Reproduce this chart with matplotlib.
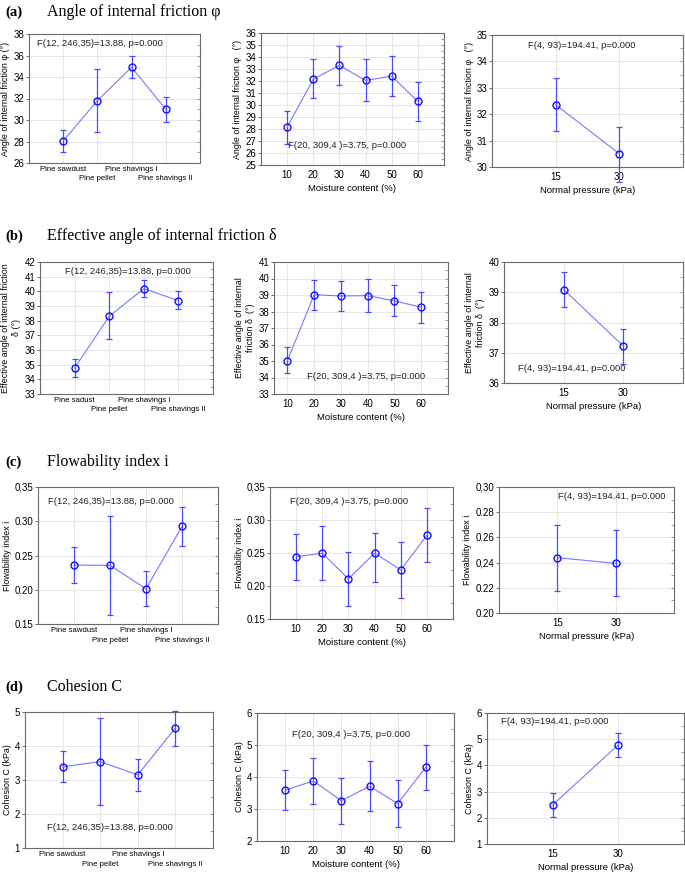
import numpy as np
import matplotlib
matplotlib.use('Agg')
from matplotlib import pyplot as plt

plt.rcParams['font.family'] = ['Liberation Sans', 'DejaVu Sans']

W, H = 685, 873

# x categories
types = ['Pine sawdust', 'Pine pellet', 'Pine shavings I', 'Pine shavings II']
types_b = ['Pine sadust', 'Pine pellet', 'Pine shavings I', 'Pine shavings II']
moisture = [10, 20, 30, 40, 50, 60]
pressure = [15, 30]

# (a) angle of internal friction
phi_type = [28.05, 31.8, 34.9, 31.0]
phi_type_lo = [27.05, 28.9, 33.9, 29.85]
phi_type_hi = [29.1, 34.7, 35.95, 32.15]
phi_moist = [28.15, 32.15, 33.3, 32.05, 32.4, 30.3]
phi_moist_lo = [26.75, 30.55, 31.7, 30.35, 30.75, 28.7]
phi_moist_hi = [29.5, 33.8, 34.9, 33.8, 34.05, 31.95]
phi_press = [32.36, 30.5]
phi_press_lo = [31.35, 29.45]
phi_press_hi = [33.38, 31.52]

# (b) effective angle of internal friction
delta_type = [34.77, 38.3, 40.18, 39.37]
delta_type_lo = [34.18, 36.74, 39.6, 38.77]
delta_type_hi = [35.36, 39.96, 40.75, 40.02]
delta_moist = [35.01, 39.02, 38.94, 38.96, 38.64, 38.26]
delta_moist_lo = [34.25, 38.12, 38.04, 38.0, 37.74, 37.33]
delta_moist_hi = [35.82, 39.93, 39.85, 39.97, 39.63, 39.2]
delta_press = [39.09, 37.22]
delta_press_lo = [38.51, 36.64]
delta_press_hi = [39.67, 37.78]

# (c) flowability index
ff_type = [0.236, 0.2357, 0.2013, 0.2924]
ff_type_lo = [0.2105, 0.163, 0.1762, 0.2643]
ff_type_hi = [0.2619, 0.3079, 0.2275, 0.3209]
ff_moist = [0.2442, 0.2497, 0.2108, 0.2497, 0.2244, 0.2766]
ff_moist_lo = [0.2092, 0.2092, 0.1703, 0.2057, 0.1819, 0.2361]
ff_moist_hi = [0.2781, 0.2903, 0.2513, 0.2796, 0.266, 0.3181]
ff_press = [0.2439, 0.2394]
ff_press_lo = [0.2175, 0.2135]
ff_press_hi = [0.2701, 0.2656]

# (d) cohesion
c_type = [3.39, 3.54, 3.15, 4.53]
c_type_lo = [2.93, 2.26, 2.69, 4.01]
c_type_hi = [3.85, 4.82, 3.61, 5.02]
c_moist = [3.59, 3.875, 3.26, 3.71, 3.17, 4.31]
c_moist_lo = [2.98, 3.16, 2.54, 2.94, 2.44, 3.6]
c_moist_hi = [4.21, 4.59, 3.98, 4.49, 3.9, 5.0]
c_press = [2.49, 4.79]
c_press_lo = [2.03, 4.32]
c_press_hi = [2.93, 5.25]

f_type = 'F(12, 246,35)=13.88, p=0.000'
f_moist = 'F(20, 309,4 )=3.75, p=0.000'
f_press = 'F(4, 93)=194.41, p=0.000'

fig = plt.figure(figsize=(W / 100, H / 100), dpi=100)


def make_ax(l, t, r, b):
    return fig.add_axes([l / W, 1 - b / H, (r - l) / W, (b - t) / H])


def panel(box, x, y, lo, hi, ylim, ystep, ylabel, ftext, fpos, kind, labels=None, yticklabels=None):
    ax = make_ax(*box)
    y = np.array(y)
    yerr = [y - np.array(lo), np.array(hi) - y]
    if kind == 'type':
        xs = np.arange(len(x))
    else:
        xs = np.array(x)
    ax.errorbar(xs, y, yerr=yerr, fmt='none', ecolor='#4a4aff', elinewidth=0.9,
                capsize=2.2, capthick=0.9, clip_on=False, zorder=3)
    ax.plot(xs, y, '-', color='#7777ff', lw=0.8, zorder=3)
    ax.plot(xs, y, 'o', mfc='none', mec='#1010ff', mew=1.0, ms=5, zorder=4, clip_on=False)
    ax.set_ylim(*ylim)
    yt = np.arange(ylim[0], ylim[1] + ystep / 2, ystep)
    ax.set_yticks(yt)
    if yticklabels is not None:
        ax.set_yticklabels(yticklabels)
    if kind == 'type':
        ax.set_xlim(-1, 4)
        ax.set_xticks(xs)
        ax.set_xticklabels(labels, fontsize=5.6)
        ax.tick_params(axis='x', length=0, pad=2)
        # staggered category labels
        for i, t in enumerate(ax.xaxis.get_major_ticks()):
            if i % 2 == 1:
                t.set_pad(9)
    elif kind == 'moist':
        ax.set_xlim(0 if box[0] != 274 else 5, 70)
        ax.set_xticks(xs)
        ax.set_xlabel('Moisture content (%)', fontsize=6.8, labelpad=3)
        ax.tick_params(axis='x', length=0, labelsize=7)
    else:
        ax.set_xlim(0, 45)
        ax.set_xticks(xs)
        ax.set_xlabel('Normal pressure (kPa)', fontsize=6.8, labelpad=3)
        ax.tick_params(axis='x', length=0, labelsize=7)
    ax.tick_params(axis='y', labelsize=7, length=2, width=0.6, pad=1.5, color='#555555')
    ax.set_ylabel(ylabel, fontsize=6.4, labelpad=2, linespacing=1.3)
    ax.grid(True, color='#e2e2e2', lw=0.6)
    ax.set_axisbelow(True)
    for s in ax.spines.values():
        s.set_color('#6a6a6a')
        s.set_linewidth(0.8)
    # little inside ticks on the right edge
    ax2 = ax.twinx()
    ax2.set_ylim(*ylim)
    ax2.set_yticks(np.arange(ylim[0], ylim[1] + ystep / 4, ystep / 2))
    ax2.set_yticklabels([])
    ax2.tick_params(axis='y', direction='in', length=2, width=0.5, color='#777777')
    for s in ax2.spines.values():
        s.set_visible(False)
    ax.text(fpos[0], fpos[1], ftext, transform=ax.transAxes, fontsize=6.8,
            ha='left', va='center', color='#222222')
    return ax


def header(tag, title, y):
    fig.text(5 / W, 1 - y / H, tag, family='Liberation Serif', weight='bold',
             fontsize=10.5, va='center', ha='left')
    fig.text(47 / W, 1 - y / H, title, family='Liberation Serif',
             fontsize=11.5, va='center', ha='left')


header('(a)', 'Angle of internal friction φ', 12)
header('(b)', 'Effective angle of internal friction δ', 236)
header('(c)', 'Flowability index i', 462)
header('(d)', 'Cohesion C', 687)

phi_lab = 'Angle of internal friction φ   (°)'
panel((29, 34, 200, 163), types, phi_type, phi_type_lo, phi_type_hi, (26, 38), 2,
      'Angle of internal friction φ (°)', f_type, (0.045, 0.93), 'type', labels=types)
panel((261, 33, 444, 165), moisture, phi_moist, phi_moist_lo, phi_moist_hi, (25, 36), 1,
      phi_lab, f_moist, (0.15, 0.146), 'moist')
panel((492, 35, 683, 167), pressure, phi_press, phi_press_lo, phi_press_hi, (30, 35), 1,
      phi_lab, f_press, (0.19, 0.917), 'press')

delta_lab = 'Effective angle of internal\nfriction δ  (°)'
panel((40, 262, 213, 394), types_b, delta_type, delta_type_lo, delta_type_hi, (33, 42), 1,
      'Effective angle of internal friction\nδ (°)', f_type, (0.145, 0.93), 'type', labels=types_b)
panel((274, 262, 448, 394), moisture, delta_moist, delta_moist_lo, delta_moist_hi, (33, 41), 1,
      delta_lab, f_moist, (0.19, 0.136), 'moist')
panel((504, 262, 683, 383), pressure, delta_press, delta_press_lo, delta_press_hi, (36, 40), 1,
      delta_lab, f_press, (0.077, 0.116), 'press')

ff_ticks = ['0.15', '0.20', '0.25', '0.30', '0,35']
panel((38, 487, 218, 624), types, ff_type, ff_type_lo, ff_type_hi, (0.15, 0.35), 0.05,
      'Flowability index i', f_type, (0.057, 0.893), 'type', labels=types, yticklabels=ff_ticks)
panel((270, 487, 453, 619), moisture, ff_moist, ff_moist_lo, ff_moist_hi, (0.15, 0.35), 0.05,
      'Flowability index i', f_moist, (0.11, 0.889), 'moist', yticklabels=ff_ticks)
panel((499, 487, 674, 613), pressure, ff_press, ff_press_lo, ff_press_hi, (0.20, 0.30), 0.02,
      'Flowability index i', f_press, (0.34, 0.923), 'press',
      yticklabels=['0.20', '0.22', '0,24', '0.26', '0.28', '0,30'])

panel((25, 712, 213, 848), types, c_type, c_type_lo, c_type_hi, (1, 5), 1,
      'Cohesion C (kPa)', f_type, (0.115, 0.149), 'type', labels=types)
panel((257, 713, 454, 841), moisture, c_moist, c_moist_lo, c_moist_hi, (2, 6), 1,
      'Cohesion C (kPa)', f_moist, (0.176, 0.834), 'moist')
panel((487, 713, 684, 844), pressure, c_press, c_press_lo, c_press_hi, (1, 6), 1,
      'Cohesion C (kPa)', f_press, (0.071, 0.934), 'press')

plt.savefig('out.png', dpi=100)
